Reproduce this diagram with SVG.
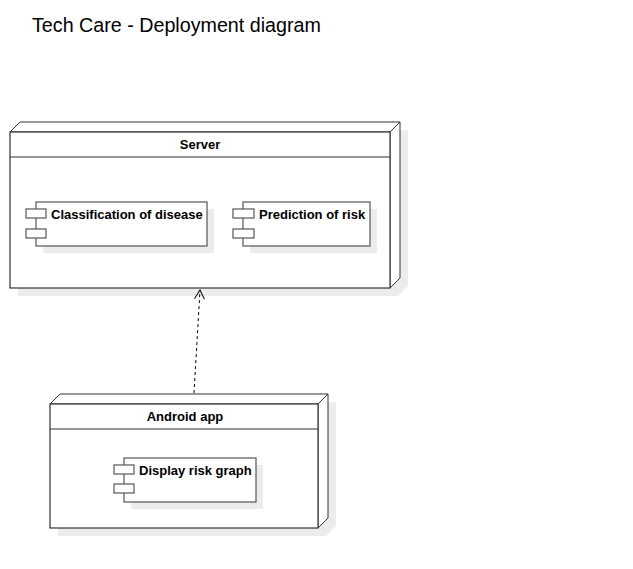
<svg xmlns="http://www.w3.org/2000/svg" width="633" height="569" viewBox="0 0 633 569">
<style>
.bg{fill:#ffffff}
.shadow{fill:#ececec;stroke:none}
.node{fill:#ffffff;stroke:#333333;stroke-width:1.2}
.depth{fill:#ffffff;stroke:#333333;stroke-width:1}
.comp{fill:#ffffff;stroke:#555555;stroke-width:1.2}
.t{font-family:"Liberation Sans",Arial,sans-serif;font-size:13px;font-weight:bold;fill:#000000}
.title{font-family:"Liberation Sans",Arial,sans-serif;font-size:19.7px;fill:#000000}
.conn{fill:none;stroke:#000000;stroke-width:1}
</style>
<defs>
<marker id="open" markerWidth="12" markerHeight="12" refX="10" refY="6" orient="auto" markerUnits="userSpaceOnUse">
<path d="M1,1 L10,6 L1,11" fill="none" stroke="#000" stroke-width="1"/>
</marker>
</defs>
<rect class="bg" x="0" y="0" width="633" height="569"/>
<text class="title" x="32" y="32">Tech Care - Deployment diagram</text>

<g id="server">
<polygon class="shadow" points="18,140 408,130 408,286 398,296 18,296"/>
<polygon class="depth" points="10,132 20,122 400,122 400,278 390,288 390,132"/>
<line class="depth" x1="390" y1="132" x2="400" y2="122"/>
<rect class="node" x="10" y="132" width="380" height="156"/>
<line class="node" x1="10" y1="157" x2="390" y2="157"/>
<text class="t" x="200" y="149" text-anchor="middle">Server</text>
<g id="classification">
<rect class="shadow" x="43" y="209" width="171" height="44"/>
<rect class="comp" x="36" y="202" width="171" height="44"/>
<rect class="comp" x="26" y="209" width="20" height="9"/>
<rect class="comp" x="26" y="229" width="20" height="9"/>
<text class="t" x="51" y="219">Classification of disease</text>
</g>
<g id="prediction">
<rect class="shadow" x="250" y="209" width="127" height="44"/>
<rect class="comp" x="243" y="202" width="127" height="44"/>
<rect class="comp" x="233" y="209" width="21" height="9"/>
<rect class="comp" x="233" y="229" width="21" height="9"/>
<text class="t" x="259" y="219">Prediction of risk</text>
</g>
</g>

<g id="android">
<polygon class="shadow" points="58,412 336,402 336,526 326,536 58,536"/>
<polygon class="depth" points="50,404 60,394 328,394 328,518 318,528 318,404"/>
<line class="depth" x1="318" y1="404" x2="328" y2="394"/>
<rect class="node" x="50" y="404" width="268" height="124"/>
<line class="node" x1="50" y1="429" x2="318" y2="429"/>
<text class="t" x="185" y="421" text-anchor="middle">Android app</text>
<g id="display">
<rect class="shadow" x="131" y="465" width="132" height="44"/>
<rect class="comp" x="124" y="458" width="132" height="44"/>
<rect class="comp" x="114" y="465" width="20" height="9"/>
<rect class="comp" x="114" y="484" width="20" height="9"/>
<text class="t" x="139" y="475">Display risk graph</text>
</g>
</g>

<g id="connectors">
<line class="conn" x1="194" y1="393" x2="200" y2="290" stroke-dasharray="3,3" marker-end="url(#open)"/>
</g>
</svg>
